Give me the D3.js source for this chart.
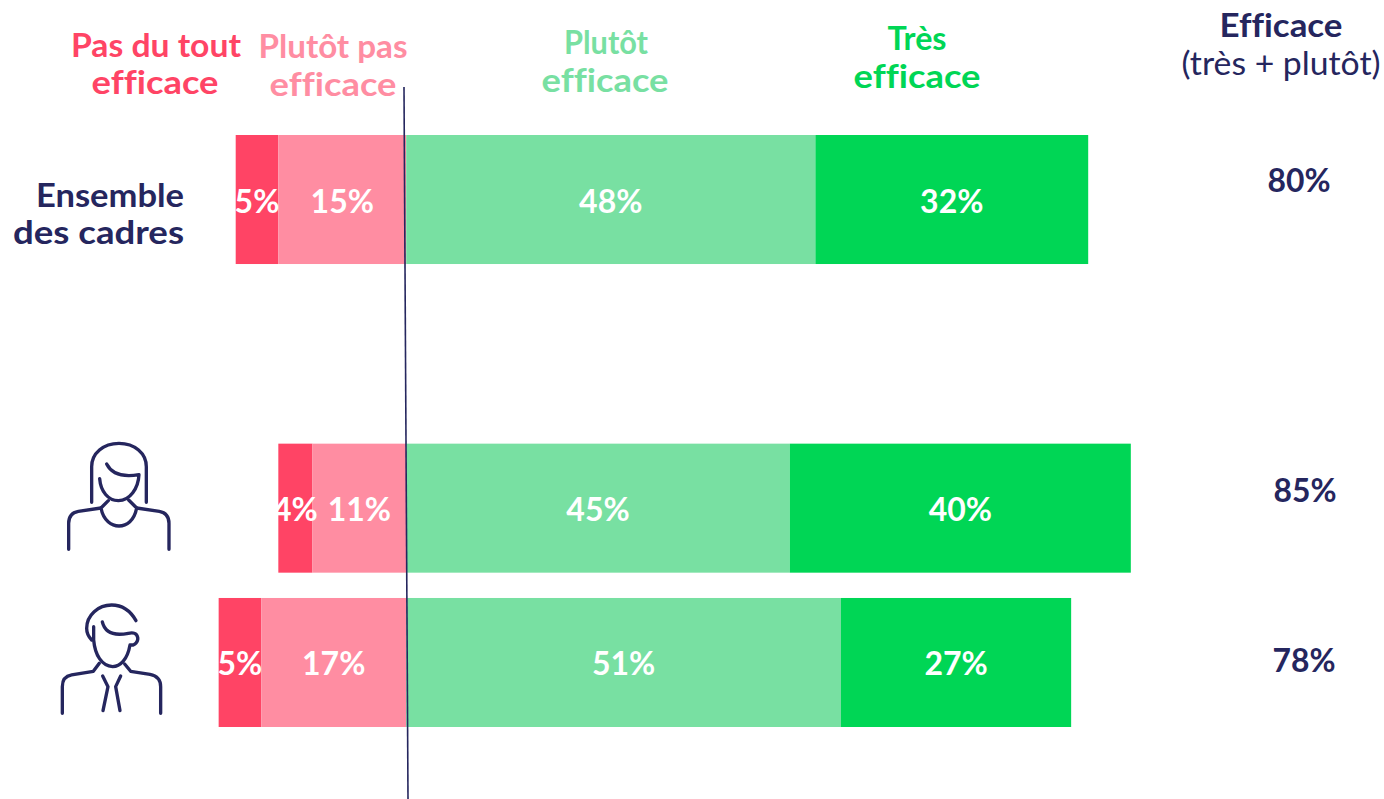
<!DOCTYPE html>
<html><head><meta charset="utf-8">
<script src="https://cdn.jsdelivr.net/npm/d3@7/dist/d3.min.js"></script>
<style>html,body{margin:0;background:#fff}svg{display:block}text{font-family:Lato,sans-serif;font-variant-ligatures:none}</style>
</head><body><svg id="c" width="1384" height="799"></svg>
<script>
const categories=["Ensemble des cadres","","Femmes","Hommes"];
const rowKeys=["Ensemble des cadres","Femmes","Hommes"];
const pasDuTout=[5,4,5];
const plutotPas=[15,11,17];
const plutotEff=[48,45,51];
const tresEff=[32,40,27];
const efficace=[80,85,78];
const colors=["#ff4465","#ff8da2","#78e0a2","#00d655"];
const navy="#25265e";
const svg=d3.select("#c");
const y=d3.scaleBand().domain(categories).range([135,727]).paddingInner(0.164);
const lean=d3.scaleLinear().domain([87,799]).range([404,408]);
const x=d3.scaleLinear().domain([0,100]).range([0,852.5]);
const zero=406.2;
function textFit(sel,t,cx,by,w,size,col,weight){
  const e=sel.append("text").attr("x",cx).attr("y",by).attr("text-anchor","middle")
   .attr("font-size",size).attr("font-weight",weight||700).attr("fill",col).text(t);
  if(w)e.attr("textLength",w).attr("lengthAdjust","spacingAndGlyphs");
  return e;
}
rowKeys.forEach((k,i)=>{
  const top=y(k),h=y.bandwidth();
  const segs=[[-pasDuTout[i]-plutotPas[i],pasDuTout[i]],[-plutotPas[i],plutotPas[i]],[0,plutotEff[i]],[plutotEff[i],tresEff[i]]];
  const g=svg.append("g");
  g.selectAll("rect").data(segs).join("rect")
   .attr("x",d=>zero+x(d[0])).attr("y",top).attr("width",d=>x(d[1])).attr("height",h)
   .attr("fill",(d,j)=>colors[j]);
  g.selectAll("text").data(segs).join("text")
   .attr("x",d=>zero+x(d[0])+x(d[1])/2).attr("y",top+h/2+13)
   .attr("text-anchor","middle").attr("font-size",32).attr("font-weight",700).attr("fill","#fff")
   .text(d=>d[1]+"%");
  textFit(svg,efficace[i]+"%",[1299,1305,1304][i],[192,502,672][i],63,32,navy);
});
[["Pas du tout",156,57,170,colors[0]],["efficace",155,94,127,colors[0]],
 ["Plutôt pas",333,58,149,colors[1]],["efficace",333,96,127,colors[1]],
 ["Plutôt",606,54,84,colors[2]],["efficace",605,92,127,colors[2]],
 ["Très",917,50,59,colors[3]],["efficace",917,88,127,colors[3]],
 ["Efficace",1281,37,123,navy]].forEach(d=>textFit(svg,d[0],d[1],d[2],d[3],32,d[4]));
textFit(svg,"(très + plutôt)",1281,75,199,32,navy,400);
[["Ensemble",184,207,148],["des cadres",184,244,171]].forEach(d=>{
  svg.append("text").attr("x",d[1]).attr("y",d[2]).attr("text-anchor","end").attr("font-size",32).attr("font-weight",700)
   .attr("fill",navy).attr("textLength",d[3]).attr("lengthAdjust","spacingAndGlyphs").text(d[0]);
});
svg.append("line").attr("x1",lean(87)).attr("y1",87).attr("x2",lean(799)).attr("y2",799).attr("stroke",navy).attr("stroke-width",1.6);
// pictos
const ic=svg.append("g").attr("fill","none").attr("stroke",navy).attr("stroke-width",10).attr("stroke-linecap","round").attr("stroke-linejoin","round");
const woman=ic.append("g").attr("transform","translate(40,430) scale(0.3333)");
["M155 217V110C155 70 190 40 237 40C284 40 319 70 319 110V217",
 "M200 102C215 132 250 142 297 134C295 175 270 212 235 212C205 212 182 185 179 146",
 "M205 212L183 234C190 272 215 288 237 288C260 288 283 272 290 234L266 210",
 "M183 234L115 244C98 247 86 258 86 280V358",
 "M290 234L358 244C375 247 387 258 387 280V358"].forEach(d=>woman.append("path").attr("d",d));
const man=ic.append("g").attr("transform","translate(40,430) scale(0.3333)");
["M288 572C270 540 245 525 215 525C175 525 140 555 140 595C140 610 147 622 155 630",
 "M161 590V630C165 675 185 708 218 710C240 710 262 690 270 645H280C293 640 297 625 290 615C285 608 275 608 265 610C225 618 195 610 187 576",
 "M178 700L160 724L95 735C78 738 67 750 67 770V850",
 "M254 702L272 724L330 733C350 737 362 750 362 770V850",
 "M188 738L204 770L189 842","M242 738L227 770L240 842"].forEach(d=>man.append("path").attr("d",d));
</script></body></html>
